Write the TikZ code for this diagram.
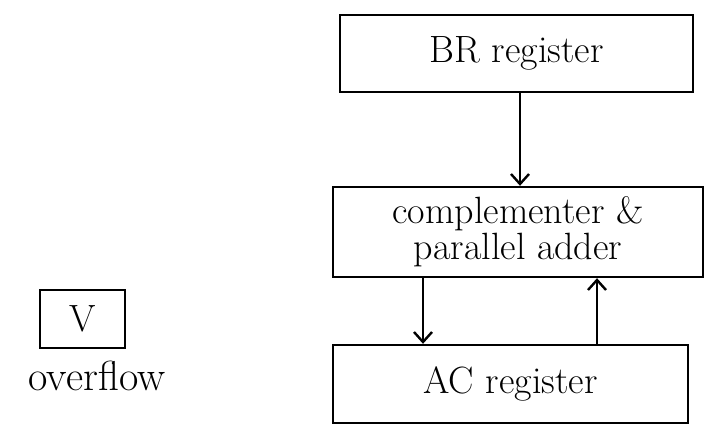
\documentclass[tikz,border=0pt]{standalone}
\usetikzlibrary{arrows.meta}
\begin{document}
\begin{tikzpicture}[x=1pt,y=-1pt,
  box/.style={draw=black, line width=2.4pt, inner sep=0pt, align=center, font=\fontsize{38}{36}\selectfont},
  arr/.style={draw=black, line width=2.4pt, -{Straight Barb[length=10pt,width=18pt,line width=2.4pt]}},
  lbl/.style={font=\fontsize{42}{44}\selectfont}]
\useasboundingbox (0,0) rectangle (709,439);
\node[box, minimum width=353pt, minimum height=77pt] (br) at (516.5,53.5) {BR register};
\node[box, minimum width=370pt, minimum height=90pt] (comp) at (518,232) {complementer \&\\parallel adder};
\node[box, minimum width=355pt, minimum height=78pt] (ac) at (510.5,384) {AC register};
\node[box, minimum width=85pt, minimum height=58pt] (v) at (82.5,319) {V};
\node[lbl] (ov) at (97,376) {overflow};
\draw[arr] ([xshift=3.5pt]br.south) -- ([xshift=2pt]comp.north);
\draw[arr] ([xshift=-95pt]comp.south) -- ([xshift=-87.5pt]ac.north);
\draw[arr] ([xshift=86.5pt]ac.north) -- ([xshift=79pt]comp.south);
\end{tikzpicture}
\end{document}
